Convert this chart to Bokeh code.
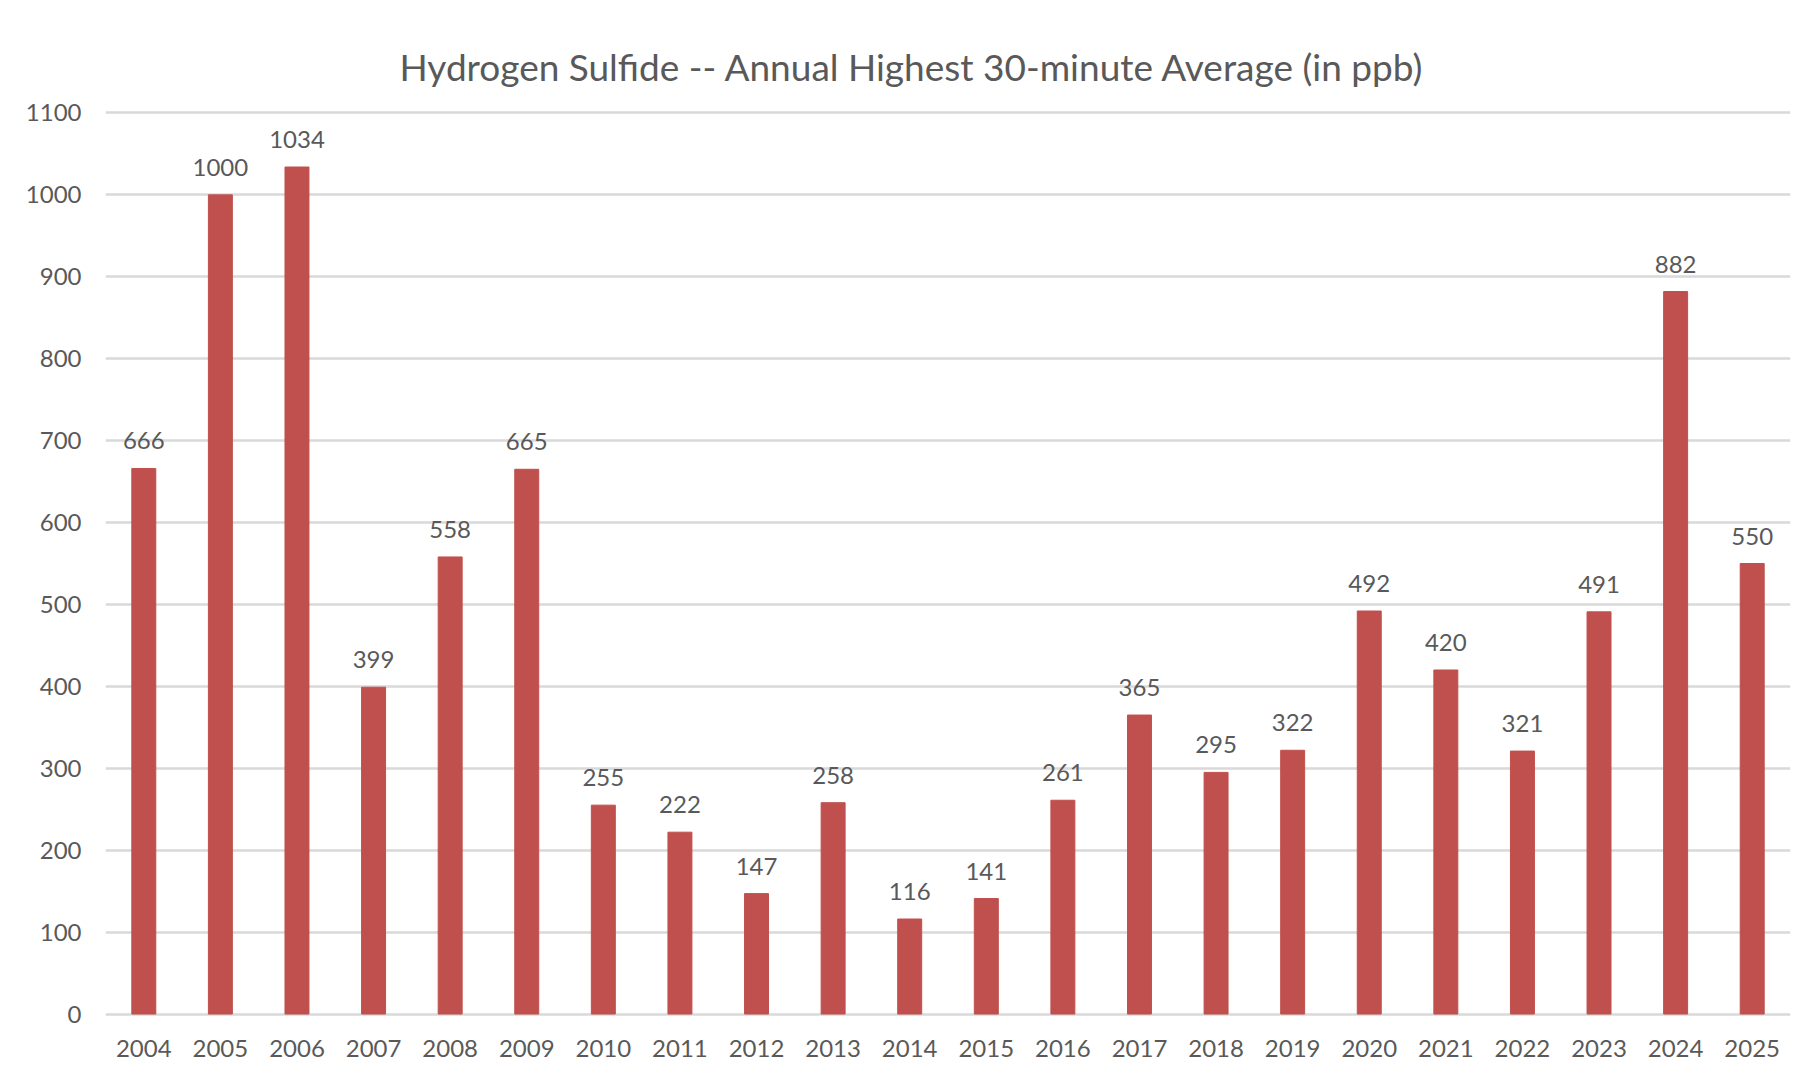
from bokeh.plotting import figure
from bokeh.models import ColumnDataSource, LabelSet, FixedTicker, FactorRange, Range1d
from bokeh.core.properties import value
from bokeh.embed import file_html
from bokeh.resources import INLINE

years = ["2004", "2005", "2006", "2007", "2008", "2009", "2010", "2011", "2012", "2013", "2014",
         "2015", "2016", "2017", "2018", "2019", "2020", "2021", "2022", "2023", "2024", "2025"]
values = [666, 1000, 1034, 399, 558, 665, 255, 222, 147, 258, 116,
          141, 261, 365, 295, 322, 492, 420, 321, 491, 882, 550]
y_ticks = [0, 100, 200, 300, 400, 500, 600, 700, 800, 900, 1000, 1100]
title_text = "Hydrogen Sulfide -- Annual Highest 30-minute Average (in ppb)"

FONT = "Lato"
TXT = "#595959"

src = ColumnDataSource(dict(x=years, y=values, lbl=[str(v) for v in values]))

p = figure(x_range=FactorRange(*years, range_padding=0, factor_padding=0),
           y_range=Range1d(-3, 1103),
           width=1795, height=1067, output_backend="svg", toolbar_location=None,
           min_border_left=105, min_border_right=5, min_border_top=110, min_border_bottom=51)
p.outline_line_color = None
p.background_fill_color = "white"
p.border_fill_color = "white"

p.vbar(x="x", top="y", bottom=0, width=0.313, source=src, fill_color="#C0504D", line_color="#C0504D")

labels = LabelSet(x="x", y="y", text="lbl", source=src, text_align="center",
                  text_baseline="alphabetic", y_offset=19, text_font=value(FONT),
                  text_font_size=value("24px"), text_color=value(TXT))
p.add_layout(labels)

p.title.text = title_text
p.title.align = "left"
p.title.vertical_align = "top"
p.title.offset = 294
p.title.standoff = 40
p.title.text_font = FONT
p.title.text_font_size = "37px"
p.title.text_font_style = "normal"
p.title.text_color = TXT

p.yaxis.ticker = FixedTicker(ticks=y_ticks)
p.ygrid.ticker = FixedTicker(ticks=y_ticks)
p.xgrid.grid_line_color = None
p.ygrid.grid_line_color = "#D9D9D9"
p.ygrid.grid_line_width = 2.5

for ax in (p.xaxis, p.yaxis):
    ax.axis_line_color = None
    ax.major_tick_line_color = None
    ax.minor_tick_line_color = None
    ax.major_tick_out = 0
    ax.major_tick_in = 0
    ax.major_label_text_font = FONT
    ax.major_label_text_font_size = "24px"
    ax.major_label_text_color = TXT
p.xaxis.major_label_standoff = 23
p.yaxis.major_label_standoff = 24

open("out.html", "w").write(file_html(p, INLINE))
